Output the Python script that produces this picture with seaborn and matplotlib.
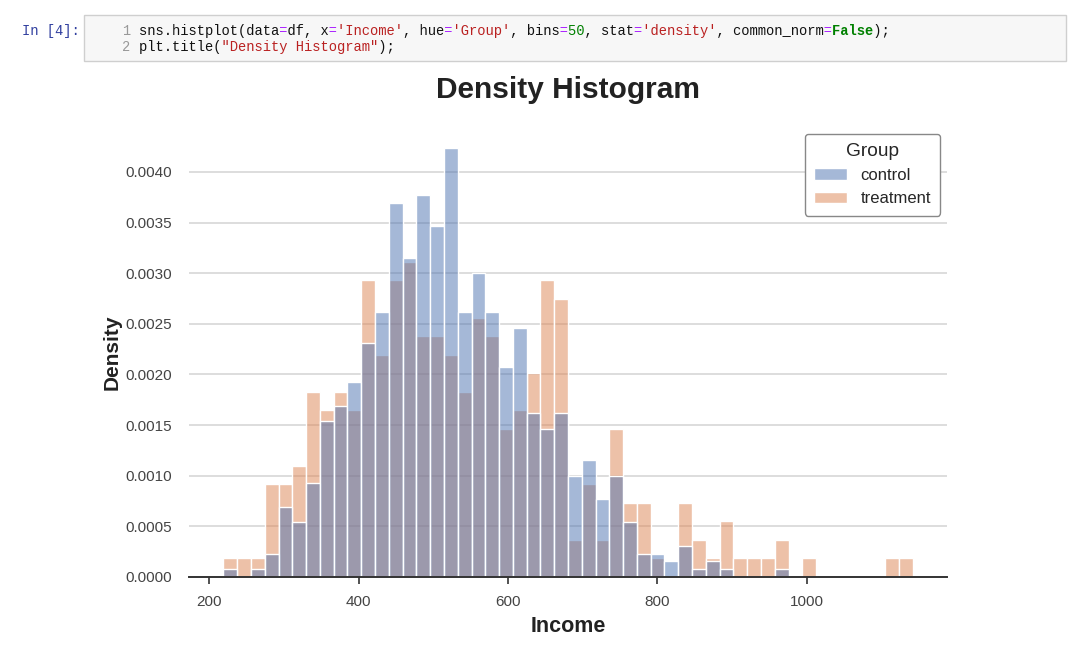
import numpy as np
import pandas as pd
import matplotlib
matplotlib.use("Agg")
import matplotlib.pyplot as plt
from matplotlib.patches import Rectangle
import seaborn as sns

# histogram: 50 common bins, counts per bin
income_min = 218.8
income_max = 1141.7
n_bins = 50
control_counts = [1, 0, 1, 3, 9, 7, 12, 20, 22, 25,
                  30, 34, 48, 41, 49, 45, 55, 34, 39, 34,
                  27, 32, 21, 19, 21, 13, 15, 10, 13, 7,
                  3, 3, 2, 4, 1, 2, 1, 0, 0, 0,
                  1, 0, 0, 0, 0, 0, 0, 0, 0, 0]
treatment_counts = [1, 1, 1, 5, 5, 6, 10, 9, 10, 9,
                    16, 12, 16, 17, 13, 13, 12, 10, 14, 13,
                    8, 9, 11, 16, 15, 2, 5, 2, 8, 4,
                    4, 1, 0, 4, 2, 1, 3, 1, 1, 1,
                    2, 0, 1, 0, 0, 0, 0, 0, 1, 1]
groups = ["control", "treatment"]

edges = np.linspace(income_min, income_max, n_bins + 1)
centers = (edges[:-1] + edges[1:]) / 2
df = pd.DataFrame({
    "Income": np.concatenate([np.repeat(centers, control_counts),
                              np.repeat(centers, treatment_counts)]),
    "Group": ["control"] * sum(control_counts) + ["treatment"] * sum(treatment_counts),
})

sns.set_style("whitegrid")
sns.set_palette("deep")
plt.rcParams["font.family"] = ["Liberation Sans", "DejaVu Sans"]

fig = plt.figure(figsize=(10.8, 6.65), dpi=100)
W, H = 1080, 665

# notebook code cell above the chart
fig.patches.append(Rectangle((84 / W, 1 - 61 / H), (1066 - 84) / W, 46 / H,
                             transform=fig.transFigure, facecolor="#f7f7f7",
                             edgecolor="#cfcfcf", linewidth=1))
mono = dict(family="Liberation Mono", fontsize=9.9, va="center")
fig.text(22 / W, 1 - 31 / H, "In [4]:", color="#303f9f", **mono)
fig.text(130 / W, 1 - 31 / H, "1", color="#999999", ha="right", **mono)
fig.text(130 / W, 1 - 47 / H, "2", color="#999999", ha="right", **mono)


def code_line(y, parts):
    # one full-width string per colour, other characters blanked, so the
    # monospace columns stay aligned
    for col, wt in {(c, w) for _, c, w in parts}:
        s = "".join(t if (c, w) == (col, wt) else " " * len(t) for t, c, w in parts)
        fig.text(139 / W, 1 - y / H, s, color=col, fontweight=wt, **mono)


K, P, R, G = "#111111", "#aa22ff", "#ba2121", "#008000"
code_line(31, [("sns.histplot(data", K, "normal"), ("=", P, "normal"), ("df, x", K, "normal"),
               ("=", P, "normal"), ("'Income'", R, "normal"), (", hue", K, "normal"),
               ("=", P, "normal"), ("'Group'", R, "normal"), (", bins", K, "normal"),
               ("=", P, "normal"), ("50", G, "normal"), (", stat", K, "normal"),
               ("=", P, "normal"), ("'density'", R, "normal"), (", common_norm", K, "normal"),
               ("=", P, "normal"), ("False", G, "bold"), (");", K, "normal")])
code_line(47, [("plt.title(", K, "normal"), ('"Density Histogram"', R, "normal"),
               (");", K, "normal")])

ax = fig.add_axes([189 / W, 1 - 577 / H, (947 - 189) / W, (577 - 127) / H])
sns.histplot(data=df, x="Income", hue="Group", hue_order=groups, bins=edges,
             stat="density", common_norm=False, ax=ax)
ax.set_title("Density Histogram", fontsize=21.5, fontweight="bold", color="#222222", pad=21)
ax.set_xlabel("Income", fontsize=15.5, fontweight="bold", color="#222222", labelpad=5)
ax.set_ylabel("Density", fontsize=15, fontweight="bold", color="#222222", labelpad=3)

ax.grid(axis="x", visible=False)
ax.grid(axis="y", color="#dddddd", linewidth=1.4)
for s in ["left", "right", "top"]:
    ax.spines[s].set_visible(False)
ax.spines["bottom"].set_color("#333333")
ax.spines["bottom"].set_linewidth(1.4)
ax.set_xticks([200, 400, 600, 800, 1000])
ax.tick_params(axis="x", bottom=True, length=5, width=1.2, color="#333333",
               labelsize=11, labelcolor="#444444", pad=8)
ax.tick_params(axis="y", length=0, labelsize=11, labelcolor="#444444", pad=12)
ax.yaxis.set_major_formatter(matplotlib.ticker.FormatStrFormatter("%.4f"))

sns.move_legend(ax, "upper right", bbox_to_anchor=(1.0, 1.0), title="Group",
                fontsize=12, title_fontsize=13.8, frameon=True, edgecolor="#888888",
                framealpha=1, fancybox=True, borderaxespad=0.4, borderpad=0.55)

fig.savefig("out.png", dpi=100)
